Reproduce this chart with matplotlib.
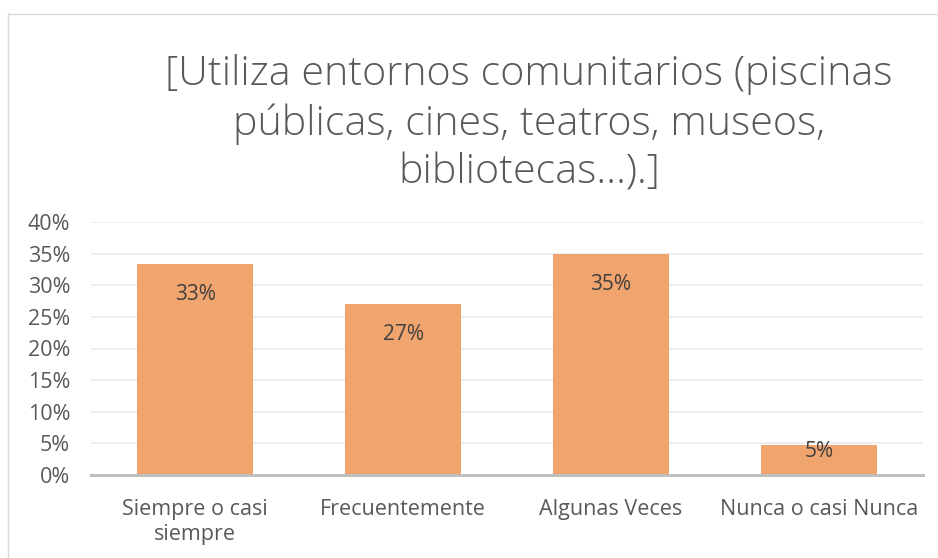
import matplotlib.pyplot as plt
from matplotlib.ticker import PercentFormatter, MultipleLocator

categories = ["Siempre o casi\nsiempre", "Frecuentemente", "Algunas Veces", "Nunca o casi Nunca"]
values = [0.333, 0.270, 0.349, 0.048]
labels = ["33%", "27%", "35%", "5%"]
title = "[Utiliza entornos comunitarios (piscinas\npúblicas, cines, teatros, museos,\nbibliotecas…).]"

plt.rcParams['font.family'] = ['Open Sans', 'DejaVu Sans']

W, H = 938, 558
fig = plt.figure(figsize=(W / 100, H / 100), dpi=100)
# plot area in pixels: x 91..923, y 222..475
ax = fig.add_axes([91 / W, 1 - 475 / H, 832 / W, (475 - 222) / H])

x = range(len(categories))
bars = ax.bar(x, values, width=0.56, color="#F0A46E", zorder=2)
ax.set_xlim(-0.5, len(categories) - 0.5)
ax.set_ylim(0, 0.40)
ax.yaxis.set_major_locator(MultipleLocator(0.05))
ax.yaxis.set_major_formatter(PercentFormatter(1.0, decimals=0))
ax.grid(axis="y", color="#EBEBEB", linewidth=1.2, zorder=0)
for s in ["top", "right", "left"]:
    ax.spines[s].set_visible(False)
ax.spines["bottom"].set_color("#BFBFBF")
ax.spines["bottom"].set_linewidth(2.2)
ax.spines["bottom"].set_zorder(3)
ax.tick_params(length=0, colors="#595959")
ax.tick_params(axis="y", pad=15, labelsize=15.5)
ax.tick_params(axis="x", pad=17, labelsize=15.5)
ax.set_xticks(list(x))
ax.set_xticklabels(categories, linespacing=1.3)

# inside-end labels, pushed up when the bar is too short
for rect, lab in zip(bars, labels):
    y = max(rect.get_height() - 0.048, 0.037)
    ax.text(rect.get_x() + rect.get_width() / 2, y, lab,
            ha="center", va="center", fontsize=15, color="#404040", zorder=4)

fig.text(529 / W, 1 - 124 / H, title, ha="center", va="center", fontsize=29.7,
         color="#595959", fontweight="light", linespacing=1.25)

# outer chart border (partly visible)
fig.add_artist(plt.Line2D([8 / W, 1], [1 - 14 / H, 1 - 14 / H], color="#D9D9D9", linewidth=1))
fig.add_artist(plt.Line2D([8 / W, 8 / W], [0, 1 - 14 / H], color="#D9D9D9", linewidth=1))

fig.savefig("out.png", dpi=100)
